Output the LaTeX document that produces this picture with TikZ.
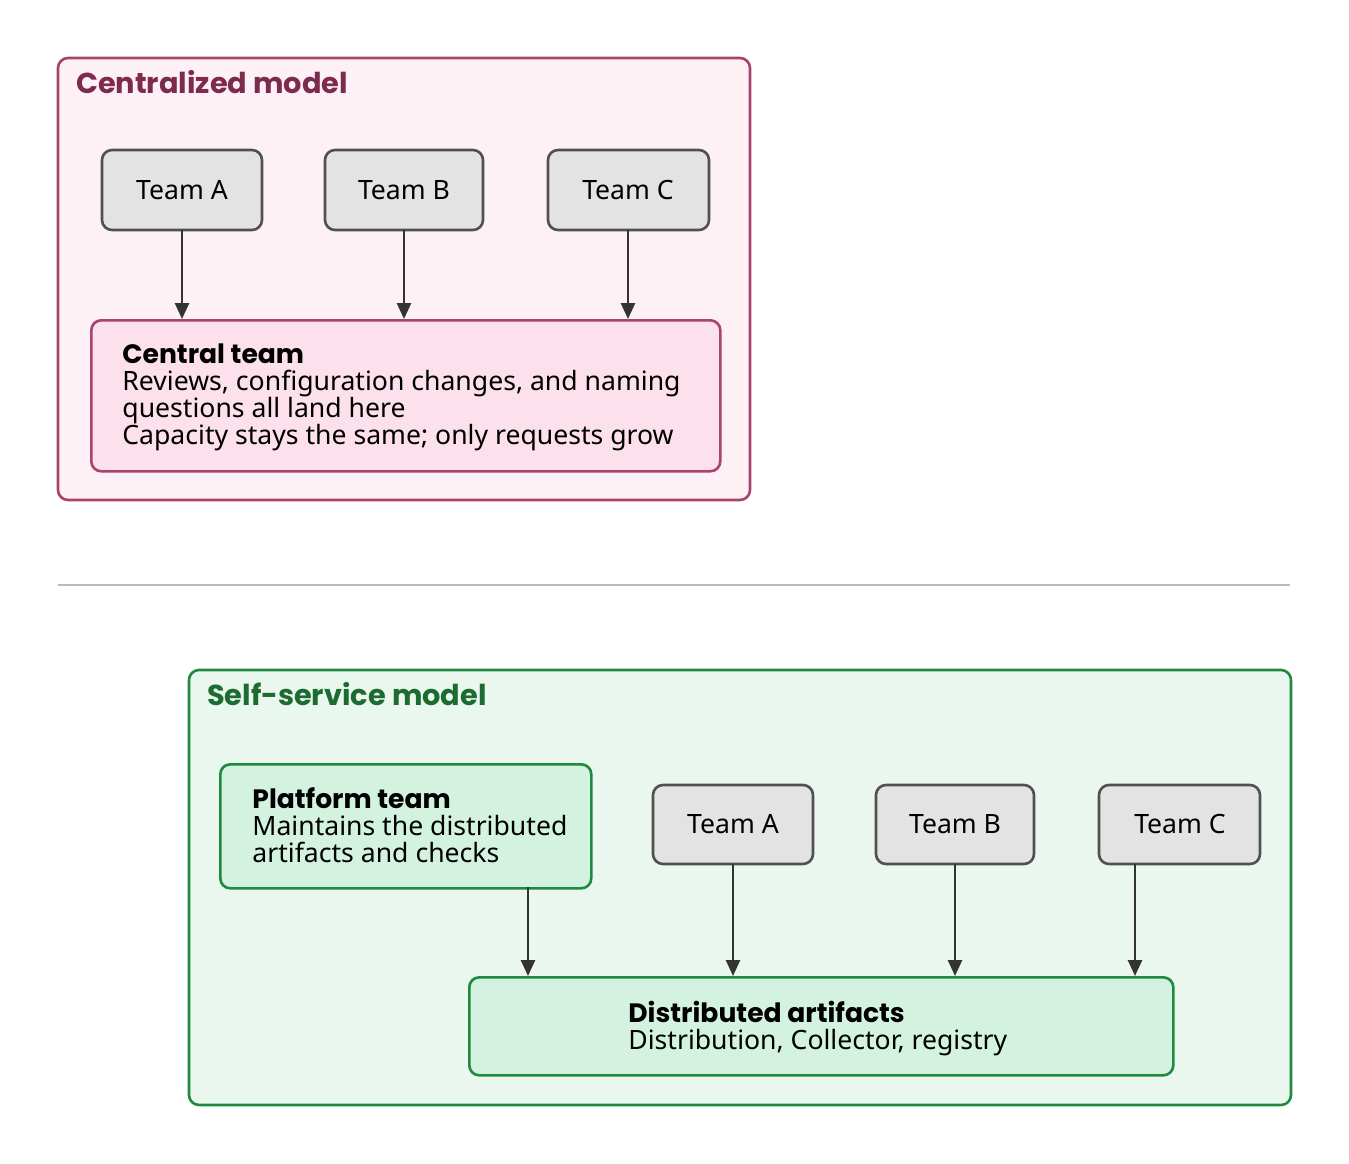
\documentclass[tikz,border=0pt]{standalone}
\usepackage{fontspec}
\setmainfont{Noto Sans}
\newfontfamily\headfont{Poppins}[UprightFont=* SemiBold,BoldFont=* Bold]
\usetikzlibrary{positioning,arrows.meta}
\definecolor{pinkline}{HTML}{A8426E}
\definecolor{pinkfill}{HTML}{FDF1F5}
\definecolor{pinkbox}{HTML}{FCE0EC}
\definecolor{pinktitle}{HTML}{7D2A4F}
\definecolor{greenline}{HTML}{1F8A3F}
\definecolor{greenfill}{HTML}{EAF7EE}
\definecolor{greenbox}{HTML}{D3F2DF}
\definecolor{greentitle}{HTML}{1C6B30}
\definecolor{teamfill}{HTML}{E3E3E3}
\definecolor{teamline}{HTML}{505050}
\definecolor{arrowc}{HTML}{333333}
\begin{document}
\begin{tikzpicture}[
    x=0.5pt, y=-0.5pt,
    font=\fontsize{13.3}{13.5}\selectfont,
    % Styles
    frame/.style={% For the model boxes
        rectangle,
        rounded corners=5pt,
        line width=1.3pt,
        },
    team/.style={% For the team boxes
        rectangle,
        rounded corners=5pt,
        draw=teamline,
        fill=teamfill,
        line width=1.3pt,
        },
    title/.style={% For the model titles
        anchor=west,
        font=\headfont\bfseries\fontsize{14.4}{15}\selectfont,
        },
    body/.style={% For multi line texts
        anchor=north west,
        align=left,
        inner sep=0pt,
        },
    ArrowC1/.style={% Arrows
        -{Triangle[length=8pt,width=7pt]},
        draw=arrowc,
        line width=1.3pt,
        },
    ]

    \useasboundingbox (0,0) rectangle (1349,1163);

    % Centralized model
    \draw [frame, draw=pinkline, fill=pinkfill] (58,58) rectangle (750,500);
    \node [title, text=pinktitle] (ctitle) at (69,82) {Centralized model};

    \draw [team] (102,150) rectangle (262,230); \node (tA) at (182,190) {Team A};
    \draw [team] (325,150) rectangle (483,230); \node (tB) at (404,190) {Team B};
    \draw [team] (548,150) rectangle (709,230); \node (tC) at (628,190) {Team C};

    \node [frame, draw=pinkline, fill=pinkbox, minimum width=629*0.5pt, minimum height=151*0.5pt,
        anchor=north west] (central) at (90,319) {};
    \node [body] (ctext) at (122,343) {{\headfont\bfseries\fontsize{13.3}{13.5}\selectfont Central team}\\
        Reviews, configuration changes, and naming\\
        questions all land here\\
        Capacity stays the same; only requests grow};

    \foreach \t in {tA,tB,tC}
        \draw [ArrowC1] (\t) ++(0,40) -- (\t |- central.north);

    % Divider
    \draw [draw=black!27, line width=1pt] (58,585) -- (1290,585);

    % Self-service model
    \draw [frame, draw=greenline, fill=greenfill] (189,670) rectangle (1291,1105);
    \node [title, text=greentitle] (stitle) at (200,694) {Self-service model};

    \node [frame, draw=greenline, fill=greenbox, minimum width=371*0.5pt, minimum height=124*0.5pt,
        anchor=north west] (platform) at (219,763) {};
    \node [body] (ptext) at (252,787) {{\headfont\bfseries Platform team}\\
        Maintains the distributed\\
        artifacts and checks};

    \draw [team] (653,785) rectangle (813,864); \node (sA) at (733,824) {Team A};
    \draw [team] (876,785) rectangle (1034,864); \node (sB) at (955,824) {Team B};
    \draw [team] (1099,785) rectangle (1260,864); \node (sC) at (1180,824) {Team C};

    \node [frame, draw=greenline, fill=greenbox, minimum width=704*0.5pt, minimum height=98*0.5pt,
        anchor=north west] (artifacts) at (468,976) {};
    \node [body] (atext) at (628,1001) {{\headfont\bfseries Distributed artifacts}\\
        Distribution, Collector, registry};

    \coordinate (pout) at (528,887);
    \coordinate (cout) at (1135,864);
    \draw [ArrowC1] (pout) -- (pout |- artifacts.north);
    \draw [ArrowC1] (sA) ++(0,40) -- (sA |- artifacts.north);
    \draw [ArrowC1] (sB) ++(0,40) -- (sB |- artifacts.north);
    \draw [ArrowC1] (cout) -- (cout |- artifacts.north);
\end{tikzpicture}
\end{document}
